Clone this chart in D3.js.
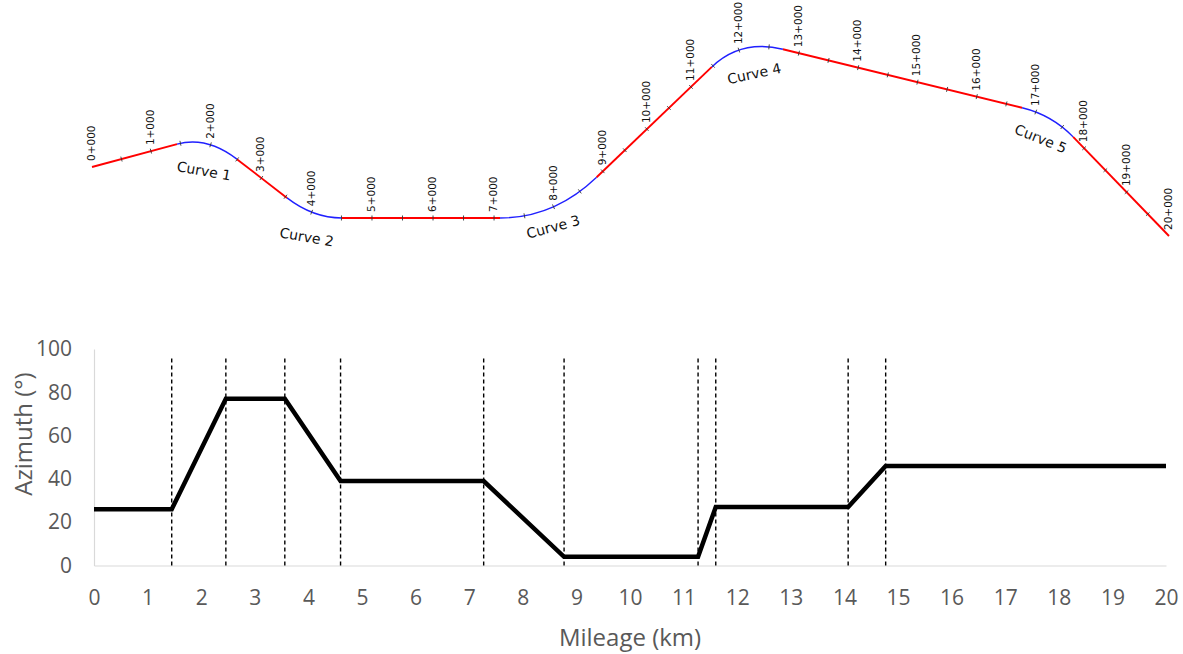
<!DOCTYPE html>
<html>
<head>
<meta charset="utf-8">
<script src="https://cdn.jsdelivr.net/npm/d3@7"></script>
<style>
  body { margin: 0; background: #fff; }
  svg { display: block; }
</style>
</head>
<body>
<script>
// plan of the alignment: points of intersection (metres, local grid)
const piEast  = [0, 1885, 3623, 7574, 10639, 15738, 17656]
const piNorth = [0, 508, -836, -836, 2098, 852, -1131]
const tangentIn  = [508, 538, 885, 661, 505]
const tangentOut = [620, 475, 967, 708, 498]
const curveNames = ["Curve 1", "Curve 2", "Curve 3", "Curve 4", "Curve 5"]
const routeLengthKm = 20
const chainageLabels = ["0+000", "1+000", "2+000", "3+000", "4+000", "5+000", "6+000",
                        "7+000", "8+000", "9+000", "10+000", "11+000", "12+000", "13+000",
                        "14+000", "15+000", "16+000", "17+000", "18+000", "19+000", "20+000"]

// azimuth along the route
const mileage = [0, 1.45, 2.46, 3.56, 4.60, 7.27, 8.77, 11.27, 11.60, 14.07, 14.77, 20]
const azimuth = [26, 26, 77, 77, 39, 39, 4, 4, 27, 27, 46, 46]
const curveBounds = [1.45, 2.46, 3.56, 4.60, 7.27, 8.77, 11.27, 11.60, 14.07, 14.77]
const mileageTicks = [0, 1, 2, 3, 4, 5, 6, 7, 8, 9, 10, 11, 12, 13, 14, 15, 16, 17, 18, 19, 20]
const azimuthTicks = [0, 20, 40, 60, 80, 100]

// where the curve names sit, relative to the middle of each curve
const curveLabelLayout = [
  {dx: -3, dy: 27, rot: 10},
  {dx: -7, dy: 24, rot: 10},
  {dx: 2, dy: 19, rot: -15},
  {dx: 10, dy: 25, rot: -12},
  {dx: -9, dy: 20, rot: 22}
]

const width = 1183
const height = 654
const svg = d3.select("body").append("svg")
              .attr("width", width)
              .attr("height", height)

// ---------- plan view ----------
const planX = d3.scaleLinear()
                .domain([0, d3.max(piEast)])
                .range([92, 1169])
const k = (1169 - 92) / d3.max(piEast)
const planY = d3.scaleLinear()
                .domain([0, 1000])
                .range([167, 167 - k * 1000])

function unit(a, b){
  const dx = b[0] - a[0], dy = b[1] - a[1], l = Math.hypot(dx, dy)
  return [dx / l, dy / l]
}

const pis = piEast.map((e, i) => [e, piNorth[i]])
const curves = curveNames.map(function(name, i){
  const pi = pis[i + 1]
  const dIn = unit(pis[i], pi)
  const dOut = unit(pi, pis[i + 2])
  return {
    name: name,
    tc: [pi[0] - tangentIn[i] * dIn[0], pi[1] - tangentIn[i] * dIn[1]],
    pi: pi,
    ct: [pi[0] + tangentOut[i] * dOut[0], pi[1] + tangentOut[i] * dOut[1]]
  }
})

const elements = []
let from = pis[0]
curves.forEach(function(c){
  elements.push({type: "straight", pts: [from, c.tc]})
  elements.push({type: "curve", pts: [c.tc, c.pi, c.ct], curve: c})
  from = c.ct
})
elements.push({type: "straight", pts: [from, pis[pis.length - 1]]})

function addElement(p, el, first){
  const s = el.pts.map(q => [planX(q[0]), planY(q[1])])
  if(first) p.moveTo(s[0][0], s[0][1])
  if(el.type === "straight"){
    p.lineTo(s[1][0], s[1][1])
  }else{
    p.quadraticCurveTo(s[1][0], s[1][1], s[2][0], s[2][1])
  }
  return p
}

const plan = svg.append("g").attr("id", "plan")

// whole route, used to find the chainage points
const routePath = d3.path()
elements.forEach((el, i) => addElement(routePath, el, i === 0))
const route = plan.append("path")
                  .attr("d", routePath.toString())
                  .attr("fill", "none")
                  .attr("stroke", "none")
const routeLen = route.node().getTotalLength()

plan.selectAll("path.element")
    .data(elements)
    .enter().append("path")
            .attr("class", "element")
            .attr("d", d => addElement(d3.path(), d, true).toString())
            .attr("fill", "none")
            .attr("stroke", d => d.type === "curve" ? "#2020ff" : "#ff0000")
            .attr("stroke-width", d => d.type === "curve" ? 1.4 : 1.9)

function pointAt(km){
  const len = km / routeLengthKm * routeLen
  const p = route.node().getPointAtLength(len)
  const a = route.node().getPointAtLength(Math.max(0, len - 1))
  const b = route.node().getPointAtLength(Math.min(routeLen, len + 1))
  const d = unit([a.x, a.y], [b.x, b.y])
  return {x: p.x, y: p.y, nx: -d[1], ny: d[0]}
}

const halfKm = d3.range(1, routeLengthKm * 2).map(i => i / 2)
plan.selectAll("line.tick")
    .data(halfKm)
    .enter().append("line")
            .attr("class", "tick")
            .each(function(km){
              const p = pointAt(km)
              d3.select(this)
                .attr("x1", p.x - p.nx * 2.5).attr("y1", p.y - p.ny * 2.5)
                .attr("x2", p.x + p.nx * 2.5).attr("y2", p.y + p.ny * 2.5)
            })
            .attr("stroke", "#333")
            .attr("stroke-width", 0.9)

plan.selectAll("text.chainage")
    .data(chainageLabels)
    .enter().append("text")
            .attr("class", "chainage")
            .attr("transform", function(d, i){
              const p = pointAt(i)
              return `translate(${p.x - 1},${p.y - 6}) rotate(-90)`
            })
            .attr("dominant-baseline", "central")
            .attr("font-family", "DejaVu Sans")
            .attr("font-size", "10.5px")
            .attr("fill", "#111")
            .text(d => d)

plan.selectAll("text.curve")
    .data(curves)
    .enter().append("text")
            .attr("class", "curve")
            .attr("transform", function(d, i){
              const mx = 0.25 * planX(d.tc[0]) + 0.5 * planX(d.pi[0]) + 0.25 * planX(d.ct[0])
              const my = 0.25 * planY(d.tc[1]) + 0.5 * planY(d.pi[1]) + 0.25 * planY(d.ct[1])
              const l = curveLabelLayout[i]
              return `translate(${mx + l.dx},${my + l.dy}) rotate(${l.rot})`
            })
            .attr("text-anchor", "middle")
            .attr("dominant-baseline", "central")
            .attr("font-family", "DejaVu Sans")
            .attr("font-size", "14px")
            .attr("fill", "#111")
            .text(d => d.name)

// ---------- azimuth chart ----------
const x = d3.scaleLinear().domain([0, 20]).range([94, 1166])
const y = d3.scaleLinear().domain([0, 100]).range([565.5, 349])

const chart = svg.append("g").attr("id", "chart")

const xAxis = d3.axisBottom(x).tickValues(mileageTicks).tickSize(0).tickPadding(25)
const yAxis = d3.axisLeft(y).tickValues(azimuthTicks).tickSize(0).tickPadding(22)

chart.append("g")
     .attr("class", "axis x")
     .attr("transform", `translate(0,${y(0)})`)
     .call(xAxis)
chart.append("g")
     .attr("class", "axis y")
     .attr("transform", `translate(${x(0)},0)`)
     .call(yAxis)

chart.selectAll(".axis .domain").attr("stroke", "#d9d9d9").attr("stroke-width", 1.2)
chart.selectAll(".axis text")
     .attr("font-family", "Open Sans")
     .attr("font-size", "21px")
     .attr("fill", "#595959")

chart.selectAll("line.bound")
     .data(curveBounds)
     .enter().append("line")
             .attr("class", "bound")
             .attr("x1", d => x(d)).attr("x2", d => x(d))
             .attr("y1", y(0)).attr("y2", y(97))
             .attr("stroke", "#000")
             .attr("stroke-width", 1.4)
             .attr("stroke-dasharray", "4,3")

const line = d3.line()
               .x(d => x(d[0]))
               .y(d => y(d[1]))
chart.append("path")
     .attr("d", line(d3.zip(mileage, azimuth)))
     .attr("fill", "none")
     .attr("stroke", "#000")
     .attr("stroke-width", 4.5)

chart.append("text")
     .attr("transform", "translate(22,434) rotate(-90)")
     .attr("text-anchor", "middle")
     .attr("dominant-baseline", "central")
     .attr("font-family", "Open Sans")
     .attr("font-size", "24px")
     .attr("fill", "#595959")
     .text("Azimuth (°)")

chart.append("text")
     .attr("x", (x(0) + x(20)) / 2)
     .attr("y", 636)
     .attr("text-anchor", "middle")
     .attr("dominant-baseline", "central")
     .attr("font-family", "Open Sans")
     .attr("font-size", "24px")
     .attr("fill", "#595959")
     .text("Mileage (km)")
</script>
</body>
</html>
